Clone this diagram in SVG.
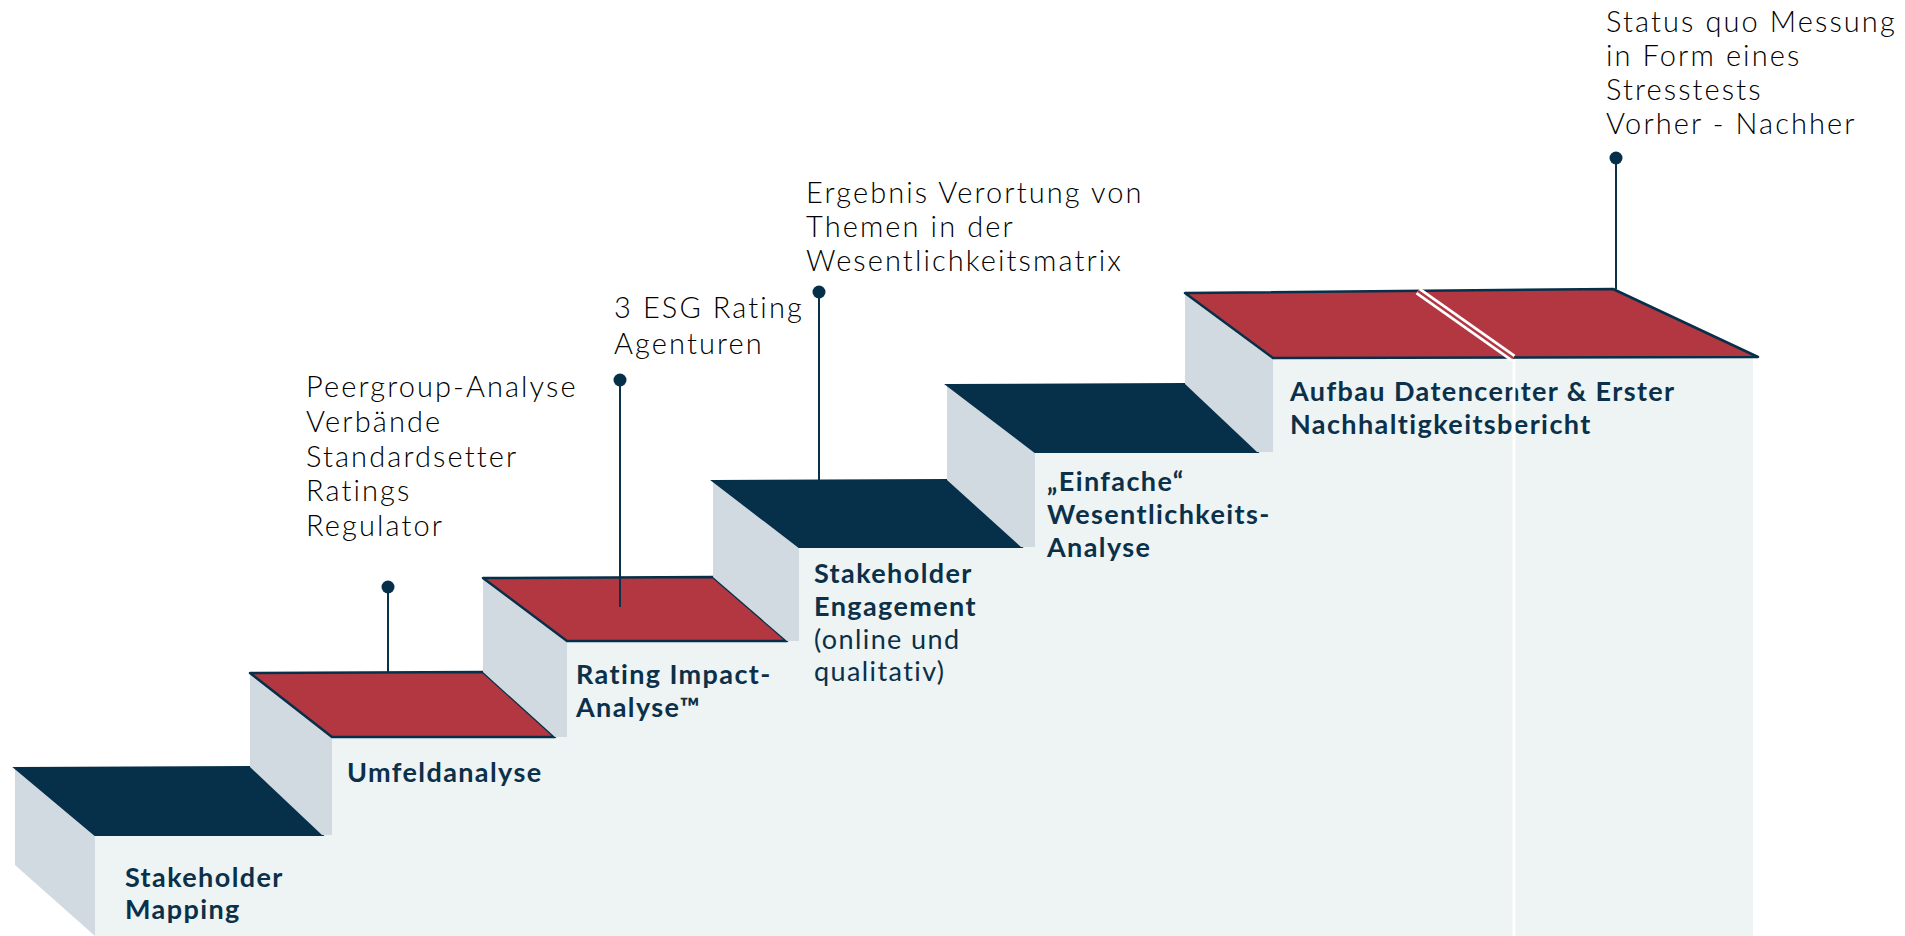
<svg xmlns="http://www.w3.org/2000/svg" width="1905" height="936" viewBox="0 0 1905 936">
<style>
.front{fill:#eef3f3}
.side{fill:#d0dae0}
.topd{fill:#06304a;stroke:#06304a;stroke-width:2}
.topr{fill:#b23741;stroke:#06304a;stroke-width:2.5;stroke-linejoin:round}
.lbl{font-family:Lato,"Liberation Sans",sans-serif;font-weight:700;font-size:27px;fill:#0b3049;letter-spacing:1.4px}
.lbl .lt{font-weight:400}
.ann{font-family:Lato,"Liberation Sans",sans-serif;font-weight:300;font-size:29px;fill:#000000;letter-spacing:2.1px}
.pin{stroke:#0b3049;stroke-width:2;fill:none}
.dot{fill:#06304a}
</style>
<rect width="1905" height="936" fill="#ffffff"/>
<g id="step1">
<rect class="front" x="95" y="835" width="1658" height="101"/>
<polygon class="side" points="15,768 95,835 95,936 15,865"/>
<polygon class="topd" points="15,768 250,767 322,835 95,835"/>
<text class="lbl" x="125" y="887">Stakeholder</text>
<text class="lbl" x="125" y="919">Mapping</text>
</g>
<g id="step2">
<rect class="front" x="332" y="737" width="1421" height="98"/>
<polygon class="side" points="250,673 332,737 332,835 322,835 250,767"/>
<polygon class="topr" points="250,673 483,672 555,737 332,737"/>
<text class="lbl" x="347" y="782">Umfeldanalyse</text>
</g>
<g id="step3">
<rect class="front" x="567" y="641" width="1186" height="96"/>
<polygon class="side" points="483,578 567,641 567,737 555,737 483,672"/>
<polygon class="topr" points="483,578 713,577 787,641 567,641"/>
<text class="lbl" x="576" y="684">Rating Impact-</text>
<text class="lbl" x="576" y="717">Analyse™</text>
</g>
<g id="step4">
<rect class="front" x="799" y="547" width="954" height="94"/>
<polygon class="side" points="713,481 799,547 799,641 787,641 713,577"/>
<polygon class="topd" points="713,481 947,480 1021,547 799,547"/>
<text class="lbl" x="814" y="583">Stakeholder</text>
<text class="lbl" x="814" y="616">Engagement</text>
<text class="lbl" x="814" y="649"><tspan class="lt">(online und</tspan></text>
<text class="lbl" x="814" y="681"><tspan class="lt">qualitativ)</tspan></text>
</g>
<g id="step5">
<rect class="front" x="1035" y="452" width="718" height="95"/>
<polygon class="side" points="947,385 1035,452 1035,547 1021,547 947,480"/>
<polygon class="topd" points="947,385 1185,384 1257,452 1035,452"/>
<text class="lbl" x="1047" y="491">„Einfache“</text>
<text class="lbl" x="1047" y="524">Wesentlichkeits-</text>
<text class="lbl" x="1047" y="557">Analyse</text>
</g>
<g id="step6">
<rect class="front" x="1273" y="358" width="480" height="94"/>
<polygon class="side" points="1185,293 1273,358 1273,452 1257,452 1185,384"/>
<polygon class="topr" points="1185,293 1613,289 1758,357 1273,358"/>
<line x1="1418" y1="291" x2="1513" y2="358" stroke="#ffffff" stroke-width="8"/>
<line x1="1418" y1="291" x2="1513" y2="358" stroke="#b23741" stroke-width="2.5"/>
<text class="lbl" x="1290" y="401">Aufbau Datencenter &amp; Erster</text>
<text class="lbl" x="1290" y="434">Nachhaltigkeitsbericht</text>
<line x1="1514" y1="359" x2="1514" y2="936" stroke="#ffffff" stroke-width="3"/>
</g>
<g id="connectors">
<line class="pin" x1="388" y1="587" x2="388" y2="672"/>
<circle class="dot" cx="388" cy="587" r="6.5"/>
<line class="pin" x1="620" y1="380" x2="620" y2="607"/>
<circle class="dot" cx="620" cy="380" r="6.5"/>
<line class="pin" x1="819" y1="292" x2="819" y2="480"/>
<circle class="dot" cx="819" cy="292" r="6.5"/>
<line class="pin" x1="1616" y1="158" x2="1616" y2="289"/>
<circle class="dot" cx="1616" cy="158" r="6.5"/>
</g>
<g id="annotations">
<text class="ann" x="306" y="397">Peergroup-Analyse</text>
<text class="ann" x="306" y="432">Verbände</text>
<text class="ann" x="306" y="467">Standardsetter</text>
<text class="ann" x="306" y="501">Ratings</text>
<text class="ann" x="306" y="536">Regulator</text>
<text class="ann" x="614" y="318">3 ESG Rating</text>
<text class="ann" x="614" y="354">Agenturen</text>
<text class="ann" x="806" y="203">Ergebnis Verortung von</text>
<text class="ann" x="806" y="237">Themen in der</text>
<text class="ann" x="806" y="271">Wesentlichkeitsmatrix</text>
<text class="ann" x="1606" y="32">Status quo Messung</text>
<text class="ann" x="1606" y="66">in Form eines</text>
<text class="ann" x="1606" y="100">Stresstests</text>
<text class="ann" x="1606" y="134">Vorher - Nachher</text>
</g>
</svg>
